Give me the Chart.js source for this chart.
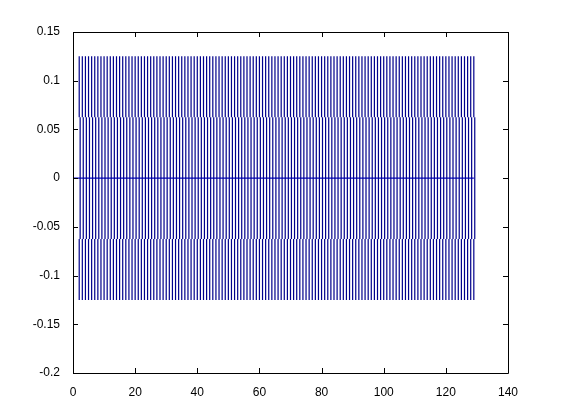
<!DOCTYPE html>
<html>
<head>
<meta charset="utf-8">
<script src="https://cdn.jsdelivr.net/npm/chart.js@4"></script>
<style>
  html, body { margin: 0; padding: 0; background: #fff; }
  #myChart { display: block; }
</style>
</head>
<body>
<canvas id="myChart" width="561" height="420"></canvas>
<script>
// x positions of the vertical lines (one per sample)
const stemX = [2, 3, 4, 5, 6, 7, 8, 9, 10, 11, 12, 13, 14, 15, 16, 17, 18, 19, 20, 21,
  22, 23, 24, 25, 26, 27, 28, 29, 30, 31, 32, 33, 34, 35, 36, 37, 38, 39, 40, 41,
  42, 43, 44, 45, 46, 47, 48, 49, 50, 51, 52, 53, 54, 55, 56, 57, 58, 59, 60, 61,
  62, 63, 64, 65, 66, 67, 68, 69, 70, 71, 72, 73, 74, 75, 76, 77, 78, 79, 80, 81,
  82, 83, 84, 85, 86, 87, 88, 89, 90, 91, 92, 93, 94, 95, 96, 97, 98, 99, 100, 101,
  102, 103, 104, 105, 106, 107, 108, 109, 110, 111, 112, 113, 114, 115, 116, 117, 118, 119, 120, 121,
  122, 123, 124, 125, 126, 127, 128, 129];
const stemTop = 0.125;     // outer level
const stemMid = 0.0625;    // inner level
const innerShift = 0.3;    // inner segments sit slightly to the right

// horizontal line at zero
const zeroX = [0, 129];
const zeroY = [0, 0];

const xTicks = [0, 20, 40, 60, 80, 100, 120, 140];
const yTicks = [-0.2, -0.15, -0.1, -0.05, 0, 0.05, 0.1, 0.15];
const yTickLabels = ['-0.2', '-0.15', '-0.1', '-0.05', '0', '0.05', '0.1', '0.15'];

const lineColor = '#00008c';

let outerData = [];
let innerData = [];
stemX.forEach(x => {
  outerData.push({ x: x, y: stemMid }, { x: x, y: stemTop }, { x: x, y: null });
  outerData.push({ x: x, y: -stemTop }, { x: x, y: -stemMid }, { x: x, y: null });
  innerData.push({ x: x + innerShift, y: -stemMid }, { x: x + innerShift, y: stemMid }, { x: x, y: null });
});

let zeroData = zeroX.map((x, i) => ({ x: x, y: zeroY[i] }));

// matlab style box with ticks pointing inwards
const boxPlugin = {
  id: 'box',
  afterDraw: (chart) => {
    let ctx = chart.ctx;
    let a = chart.chartArea;
    let sx = chart.scales.x;
    let sy = chart.scales.y;
    ctx.save();
    ctx.strokeStyle = '#000';
    ctx.lineWidth = 1;
    ctx.beginPath();
    ctx.rect(Math.round(a.left) + 0.5, Math.round(a.top) + 0.5,
      Math.round(a.right - a.left), Math.round(a.bottom - a.top));
    xTicks.forEach(v => {
      let px = Math.round(sx.getPixelForValue(v)) + 0.5;
      ctx.moveTo(px, a.bottom); ctx.lineTo(px, a.bottom - 5);
      ctx.moveTo(px, a.top); ctx.lineTo(px, a.top + 5);
    });
    yTicks.forEach(v => {
      let py = Math.round(sy.getPixelForValue(v)) + 0.5;
      ctx.moveTo(a.left, py); ctx.lineTo(a.left + 5, py);
      ctx.moveTo(a.right, py); ctx.lineTo(a.right - 5, py);
    });
    ctx.stroke();
    ctx.restore();
  }
};

const lineStyle = {
  borderColor: lineColor,
  borderWidth: 1.2,
  pointRadius: 0,
  spanGaps: false,
  fill: false
};

var ctx = document.getElementById('myChart').getContext('2d');
let myChart = new Chart(ctx, {
  type: 'line',
  data: {
    datasets: [
      Object.assign({ data: outerData }, lineStyle),
      Object.assign({ data: innerData }, lineStyle),
      Object.assign({ data: zeroData }, lineStyle, { borderColor: '#0000c8', borderWidth: 1.4 })
    ]
  },
  options: {
    responsive: false,
    animation: false,
    layout: {
      padding: { top: 32, right: 53, left: 0, bottom: 0 }
    },
    plugins: {
      legend: { display: false },
      tooltip: { enabled: false }
    },
    scales: {
      x: {
        type: 'linear',
        min: 0,
        max: 140,
        afterFit: (s) => { s.height = 47; },
        afterBuildTicks: (s) => { s.ticks = xTicks.map(v => ({ value: v })); },
        grid: { display: false },
        border: { display: false },
        ticks: {
          color: '#000',
          padding: 4,
          font: { family: 'Liberation Sans', size: 12 },
          maxRotation: 0
        }
      },
      y: {
        type: 'linear',
        min: -0.2,
        max: 0.15,
        afterFit: (s) => { s.width = 73; },
        afterBuildTicks: (s) => { s.ticks = yTicks.map(v => ({ value: v })); },
        grid: { display: false },
        border: { display: false },
        ticks: {
          color: '#000',
          padding: 5,
          font: { family: 'Liberation Sans', size: 12 },
          callback: (v, i) => yTickLabels[i]
        }
      }
    }
  },
  plugins: [boxPlugin]
});
</script>
</body>
</html>
